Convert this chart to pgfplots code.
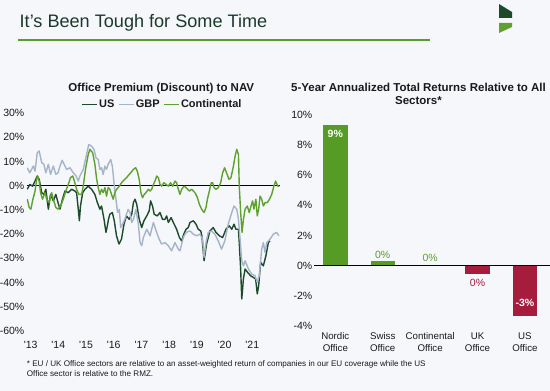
\documentclass[border=0pt]{standalone}
\usepackage{fontspec}
\setmainfont{Liberation Sans}
\usepackage{pgfplots}
\pgfplotsset{compat=1.18}
\definecolor{bg}{HTML}{F5F7FA}
\definecolor{titlecol}{HTML}{1C3A2A}
\definecolor{linegreen}{HTML}{5B9B2A}
\definecolor{usgreen}{HTML}{1D4A2A}
\definecolor{gbpblue}{HTML}{A6B4CA}
\definecolor{contgreen}{HTML}{5FA12E}
\definecolor{bargreen}{HTML}{579B27}
\definecolor{barred}{HTML}{A51C3C}
\definecolor{tickcol}{HTML}{1A1A1A}
\begin{document}
\begin{tikzpicture}[x=1pt,y=1pt]
\useasboundingbox (0,0) rectangle (550,391);
\fill[bg] (0,0) rectangle (550,391);
% header
\node[anchor=west, inner sep=0pt, text=titlecol, font=\fontsize{18.1}{21}\selectfont] at (19.5,367.7) {It’s Been Tough for Some Time};
\draw[linegreen, line width=2pt] (17.7,351.3) -- (430,351.3);
\fill[usgreen] (499,387) -- (512,379) -- (512,373) -- (499,373) -- cycle;
\fill[contgreen] (499,368) -- (512,368) -- (512,364) -- (499,358) -- cycle;
% titles
\node[font=\bfseries\fontsize{11.5}{13}\selectfont, text=tickcol, inner sep=0pt] at (161.3,302) {Office Premium (Discount) to NAV};
\node[font=\bfseries\fontsize{11.5}{13}\selectfont, text=tickcol, inner sep=0pt, align=center] at (418.5,297.5) {5-Year Annualized Total Returns Relative to All\\Sectors*};
% footnote
\node[anchor=west, inner sep=0pt, text=tickcol, font=\fontsize{8.1}{9}\selectfont] at (26.7,26.7) {* EU / UK Office sectors are relative to an asset-weighted return of companies in our EU coverage while the US};
\node[anchor=west, inner sep=0pt, text=tickcol, font=\fontsize{8.1}{9}\selectfont] at (26.7,17.7) {Office sector is relative to the RMZ.};

% ---------- left chart
\begin{axis}[
  at={(27pt,60pt)}, anchor=south west, scale only axis,
  width=253pt, height=218pt,
  xmin=2012.87, xmax=2022.0, ymin=-60, ymax=30,
  axis line style={draw=none}, major tick length=0pt,
  xtick={2013,2014,2015,2016,2017,2018,2019,2020,2021},
  xticklabels={\textquotesingle 13,\textquotesingle 14,\textquotesingle 15,\textquotesingle 16,\textquotesingle 17,\textquotesingle 18,\textquotesingle 19,\textquotesingle 20,\textquotesingle 21},
  ytick={-60,-50,-40,-30,-20,-10,0,10,20,30},
  yticklabels={-60\%,-50\%,-40\%,-30\%,-20\%,-10\%,0\%,10\%,20\%,30\%},
  /pgf/number format/assume math mode=true,
  tick label style={font=\fontsize{10.5}{12}\selectfont, text=tickcol},
  yticklabel style={anchor=east, inner sep=0pt, xshift=-2.5pt},
  xticklabel style={anchor=north, inner sep=0pt, yshift=-10pt},
  legend style={at={(0.534,1.04)}, anchor=center, draw=none, fill=none,
    font=\bfseries\fontsize{11}{13}\selectfont, text=tickcol,
    inner sep=0pt, nodes={inner sep=1pt},
    /tikz/every even column/.append style={column sep=3pt}},
  legend columns=3,
  legend image code/.code={\draw[#1] (0pt,0pt) -- (15pt,0pt);},
  line join=round,
]
\addplot[black, line width=0.9pt, forget plot] coordinates {(2012.87,0) (2022.0,0)};
\addplot[usgreen, line width=1.4pt] table {
2012.88 -1.5
2012.97 0.5
2013.07 -0.2
2013.16 1.9
2013.24 4.0
2013.31 2.6
2013.40 -2.9
2013.48 -3.6
2013.55 -1.5
2013.64 -9.7
2013.72 -3.6
2013.82 -6.3
2013.91 -3.6
2013.99 -7.0
2014.06 -9.7
2014.15 -5.6
2014.24 -2.2
2014.36 -2.9
2014.48 -1.5
2014.60 -2.2
2014.66 -2.9
2014.72 -9.7
2014.76 -14.5
2014.80 -8.4
2014.88 -2.9
2014.96 -1.5
2015.08 -0.2
2015.20 -1.5
2015.32 -3.6
2015.41 -7.0
2015.50 -9.7
2015.56 -8.4
2015.65 -13.9
2015.72 -19.3
2015.77 -16.6
2015.81 -13.9
2015.86 -11.8
2015.95 -11.1
2016.02 -14.5
2016.10 -20.7
2016.19 -24.1
2016.28 -22.1
2016.37 -15.9
2016.46 -12.5
2016.56 -13.9
2016.65 -11.8
2016.71 -7.0
2016.77 -5.6
2016.83 -7.7
2016.92 -13.9
2017.01 -17.3
2017.09 -14.5
2017.19 -12.5
2017.28 -10.4
2017.33 -6.3
2017.40 -8.4
2017.46 -11.8
2017.57 -12.5
2017.67 -11.1
2017.76 -13.9
2017.85 -13.9
2017.91 -12.5
2017.97 -15.2
2018.07 -13.2
2018.15 -15.2
2018.27 -18.0
2018.37 -21.4
2018.45 -22.8
2018.53 -20.0
2018.61 -18.0
2018.69 -17.3
2018.75 -15.2
2018.87 -14.5
2018.97 -15.9
2019.05 -18.0
2019.14 -18.7
2019.18 -20.7
2019.26 -31.0
2019.35 -24.1
2019.47 -18.7
2019.59 -17.3
2019.69 -19.3
2019.81 -20.7
2019.93 -21.4
2020.05 -18.0
2020.17 -16.6
2020.26 -18.0
2020.34 -15.9
2020.41 -18.0
2020.50 -18.0
2020.53 -23.5
2020.58 -34.4
2020.62 -46.8
2020.68 -38.5
2020.74 -34.4
2020.83 -35.8
2020.94 -37.2
2021.04 -37.9
2021.12 -38.5
2021.18 -44.7
2021.23 -41.3
2021.30 -31.7
2021.40 -33.1
2021.49 -29.0
2021.58 -23.5
2021.64 -22.8
};
\addlegendentry{US}
\addplot[gbpblue, line width=1.4pt] table {
2012.88 7.4
2012.97 5.3
2013.10 8.1
2013.16 6.0
2013.24 13.6
2013.31 14.3
2013.40 9.5
2013.48 8.8
2013.55 5.3
2013.64 8.8
2013.72 4.7
2013.82 8.1
2013.91 4.7
2013.99 5.3
2014.06 8.1
2014.14 10.5
2014.24 8.1
2014.30 6.7
2014.42 7.4
2014.54 5.3
2014.64 4.0
2014.72 1.9
2014.78 4.0
2014.90 6.7
2015.02 12.9
2015.10 17.0
2015.20 16.3
2015.29 14.9
2015.36 11.5
2015.44 10.8
2015.50 6.7
2015.56 7.4
2015.62 4.6
2015.68 8.1
2015.74 6.7
2015.80 8.8
2015.89 10.8
2015.95 8.1
2016.01 1.2
2016.08 -5.6
2016.14 -11.1
2016.20 -9.8
2016.25 -17.3
2016.32 -15.9
2016.40 -13.9
2016.46 -11.8
2016.52 -9.8
2016.59 -11.1
2016.65 -15.2
2016.71 -13.9
2016.80 -9.8
2016.89 -16.0
2016.95 -23.5
2017.01 -24.8
2017.07 -21.4
2017.19 -18.0
2017.31 -20.7
2017.43 -15.2
2017.55 -19.3
2017.64 -22.1
2017.73 -24.1
2017.85 -23.5
2017.97 -24.8
2018.09 -26.9
2018.21 -23.5
2018.33 -26.2
2018.39 -26.9
2018.51 -21.4
2018.61 -19.3
2018.75 -18.7
2018.87 -20.0
2018.99 -20.7
2019.11 -20.0
2019.21 -22.1
2019.26 -29.6
2019.33 -23.5
2019.41 -19.3
2019.53 -18.7
2019.65 -20.0
2019.77 -22.8
2019.89 -26.2
2020.01 -22.8
2020.13 -15.9
2020.26 -11.1
2020.34 -8.4
2020.44 -9.7
2020.50 -13.9
2020.56 -22.1
2020.62 -31.0
2020.68 -33.1
2020.74 -31.0
2020.86 -34.4
2020.98 -36.5
2021.10 -37.2
2021.18 -39.9
2021.25 -37.2
2021.34 -26.2
2021.40 -23.5
2021.46 -27.6
2021.52 -23.5
2021.64 -22.1
2021.76 -20.0
2021.88 -19.3
2021.96 -20.7
};
\addlegendentry{GBP}
\addplot[contgreen, line width=1.4pt] table {
2012.88 -5.6
2012.95 -9.0
2013.01 -9.7
2013.07 -6.3
2013.16 -2.2
2013.22 2.6
2013.25 4.0
2013.31 1.9
2013.36 -2.9
2013.43 -5.6
2013.52 -2.9
2013.58 -5.6
2013.67 -7.0
2013.76 -2.9
2013.82 -5.6
2013.91 -9.0
2013.99 -9.7
2014.08 -8.4
2014.18 -5.6
2014.27 -2.2
2014.36 0.5
2014.44 3.3
2014.52 4.0
2014.58 1.9
2014.66 -1.5
2014.74 -3.6
2014.84 -3.6
2014.90 -0.2
2014.98 6.7
2015.08 12.9
2015.14 15.0
2015.24 13.6
2015.32 8.8
2015.38 3.0
2015.44 -0.8
2015.50 -3.6
2015.56 -1.5
2015.62 -2.9
2015.68 -0.8
2015.74 -4.3
2015.80 -0.8
2015.86 -1.5
2015.92 -3.6
2015.98 -5.6
2016.04 -2.9
2016.10 -1.5
2016.16 -0.8
2016.22 0.1
2016.28 1.2
2016.34 1.9
2016.46 3.3
2016.61 5.3
2016.71 6.7
2016.79 7.4
2016.85 6.0
2016.92 2.6
2016.98 -2.9
2017.04 -5.0
2017.10 -3.6
2017.16 -2.9
2017.25 -1.5
2017.31 -2.2
2017.37 -1.5
2017.43 0.5
2017.49 1.9
2017.55 4.0
2017.61 3.3
2017.67 0.5
2017.73 -0.2
2017.81 1.2
2017.89 0.5
2017.97 -0.2
2018.05 1.2
2018.13 -0.2
2018.21 1.9
2018.27 1.2
2018.33 -1.5
2018.39 -3.6
2018.45 -1.5
2018.54 -0.2
2018.61 -0.8
2018.73 -2.2
2018.81 -1.5
2018.93 -2.9
2019.02 -4.9
2019.09 -7.7
2019.17 -9.7
2019.26 -11.1
2019.33 -9.0
2019.38 -5.6
2019.45 -2.2
2019.52 1.2
2019.57 1.2
2019.62 -0.8
2019.69 -1.5
2019.77 -0.8
2019.86 1.2
2019.93 5.3
2020.00 7.4
2020.07 5.3
2020.16 2.6
2020.23 3.3
2020.32 8.1
2020.38 12.2
2020.44 15.0
2020.50 12.9
2020.53 -0.1
2020.58 -11.1
2020.63 -19.3
2020.68 -13.9
2020.74 -9.7
2020.82 -8.4
2020.89 -11.1
2020.94 -9.0
2021.01 -6.3
2021.06 -9.7
2021.13 -5.6
2021.18 -12.5
2021.23 -9.7
2021.28 -4.3
2021.34 -5.6
2021.40 -8.4
2021.46 -7.0
2021.54 -7.0
2021.62 -5.6
2021.70 -3.6
2021.78 -0.2
2021.84 1.9
2021.92 -0.2
2021.98 -0.2
};
\addlegendentry{Continental}
\end{axis}

% ---------- right chart
\begin{axis}[
  at={(314pt,64.9pt)}, anchor=south west, scale only axis,
  width=235.6pt, height=211.4pt,
  xmin=-0.45, xmax=4.52, ymin=-4, ymax=10,
  axis line style={draw=none}, major tick length=0pt,
  xtick={0,1,2,3,4},
  xticklabels={{Nordic\\Office},{Swiss\\Office},{Continental\\Office},{UK\\Office},{US\\Office}},
  ytick={-4,-2,0,2,4,6,8,10},
  yticklabels={-4\%,-2\%,0\%,2\%,4\%,6\%,8\%,10\%},
  /pgf/number format/assume math mode=true,
  tick label style={font=\fontsize{10.5}{12}\selectfont, text=tickcol},
  yticklabel style={anchor=east, inner sep=0pt, xshift=-1.5pt},
  xticklabel style={font=\fontsize{9.7}{12}\selectfont, align=center, anchor=north, inner sep=0pt, yshift=-6.5pt},
  clip=false,
]
\addplot[ybar, bar width=24.4pt, bar shift=0pt, fill=bargreen, draw=none,
  nodes near coords={9\%},
  every node near coord/.append style={anchor=center, yshift=-9.6pt, text=white, font=\bfseries\fontsize{10.5}{12}\selectfont}]
  coordinates {(0,9.34)};
\addplot[ybar, bar width=24.4pt, bar shift=0pt, fill=bargreen, draw=none,
  nodes near coords={0\%},
  every node near coord/.append style={anchor=center, yshift=6.5pt, text=bargreen, font=\fontsize{10.5}{12}\selectfont}]
  coordinates {(1,0.31)};
\addplot[ybar, bar width=24.4pt, bar shift=0pt, fill=bargreen, draw=none,
  nodes near coords={0\%},
  every node near coord/.append style={anchor=center, yshift=6.5pt, text=contgreen, font=\fontsize{10.5}{12}\selectfont}]
  coordinates {(2,0.07)};
\addplot[ybar, bar width=24.4pt, bar shift=0pt, fill=barred, draw=none,
  nodes near coords={0\%},
  every node near coord/.append style={anchor=center, yshift=-9pt, text=barred, font=\fontsize{10.5}{12}\selectfont}]
  coordinates {(3,-0.53)};
\addplot[ybar, bar width=24.4pt, bar shift=0pt, fill=barred, draw=none,
  nodes near coords={-3\%},
  every node near coord/.append style={anchor=center, yshift=12.4pt, text=white, font=\bfseries\fontsize{10.5}{12}\selectfont}]
  coordinates {(4,-3.31)};
\addplot[black, line width=0.9pt] coordinates {(-0.45,0) (4.52,0)};
\end{axis}
\end{tikzpicture}
\end{document}
